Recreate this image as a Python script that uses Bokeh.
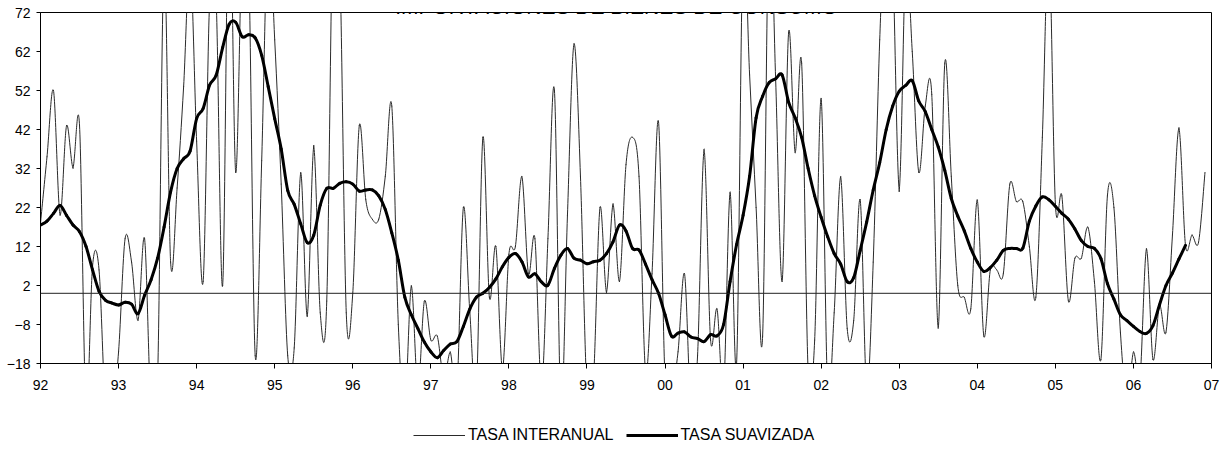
from bokeh.plotting import figure
from bokeh.layouts import column
from bokeh.models import Range1d, FixedTicker, Span, Label, Legend, LegendItem, ColumnDataSource
from bokeh.embed import file_html
from bokeh.resources import INLINE

# ---------------- data (monthly, Jan 1992 onwards) ----------------
start_year = 1992
tasa_interanual = [
    18, 35, 52, 20, 43, 32, 43, -30, 7, 6, -30, -30,            # 1992
    -15, 14, 8, -7, 14, -30, -22, 85, 8, 27, 53, 85,           # 1993
    39, 3, 75, 75, 2, 110, 31, 90, 85, -16, 34, 95,            # 1994
    65, 28, -16, -14, 31, -6, 38, -5, -2, 100, 85, -5,         # 1995
    0, 43, 24, 19, 19, 30, 48, -8, -30, 2, -25, -2,            # 1996
    -12, -11, -22, -15, -25, 22, -5, -25, 40, -1, 12, -20,     # 1997
    10, 12, 30, 5, 14, -25, 14, 52, -30, 20, 64, 30,           # 1998
    -25, -22, 22, 0, 23, 3, 33, 40, 30, -20, 5, 44,            # 1999
    -22, -25, -15, 5, -30, -16, 37, -12, -4, -25, 26, -18,     # 2000
    90, 56, 22, -11, 100, 55, 3, 67, 36, 59, -20, -12,         # 2001
    50, -25, -5, 30, -9, -7, 24, -25, 8, 65, 100, 85,          # 2002
    26, 85, 62, 31, 48, 51, -9, 59, 30, 2, -1, -4,             # 2003
    24, -11, 6, 6, 5, 28, 23.5, 23.5, 12, -1, 40, 90,          # 2004
    23, 25, -2, 9, 9, 17, 3, -17, 25, 22, -10, -28,            # 2005
    -15, -22, 11.5, -17, -3, -10, 15, 42.5, 12.3, 15, 13, 31,  # 2006
]
tasa_suavizada = [
    17.5, 18.5, 20.5, 22.5, 20, 17.5, 15.8, 12, 6, 0.5, -1.8, -2.5,
    -3, -2.3, -2.8, -5.2, -0.5, 3.5, 9, 17, 26, 32, 34.5, 36.5,
    44.8, 47.4, 53.4, 55.9, 63, 69, 69.5, 65.8, 66.3, 65.5, 61, 53,
    44.8, 37, 26.4, 22.8, 17.8, 13, 14.9, 22.6, 26.9, 26.9, 28.2, 28.6,
    28, 26.2, 26.5, 26.5, 25, 21.5, 15.5, 8.5, -1, -5.5, -9, -12.5,
    -15, -16.5, -14.6, -13, -12.4, -8.5, -4, -1, 0, 1.5, 3.7, 6.8,
    9.2, 10.2, 8.1, 4.2, 5, 2.9, 2.1, 6.4, 9.8, 11.5, 9, 8.5,
    7.6, 8.1, 8.5, 10.2, 13.2, 17.5, 16, 11.5, 11.1, 7.5, 3.5, 0,
    -5.5, -11, -10.2, -9.9, -11.2, -11.6, -12.4, -10.6, -10.9, -8, 3, 12.5,
    20, 30, 45, 50.5, 54, 55, 56, 49, 45, 40, 32, 25,
    19.5, 14.5, 10.2, 7.5, 3, 4, 11, 18.3, 26.5, 33.5, 42, 48,
    51.8, 53.3, 54.5, 49.3, 46.6, 42, 37.5, 31.5, 24.3, 19.8, 16, 11.5,
    8, 5.6, 6.6, 8.5, 11, 11.5, 11.5, 11.6, 18.5, 22.4, 24.7, 24,
    22.3, 20.5, 19, 16.5, 13.5, 12, 11.5, 8.9, 2.5, -1.5, -5.5, -7,
    -8.5, -9.8, -10.3, -8.3, -3, 2, 5.2, 8.8, 12.3,
]
x_ticks = list(range(1992, 2008))
x_tick_labels = ["92", "93", "94", "95", "96", "97", "98", "99",
                 "00", "01", "02", "03", "04", "05", "06", "07"]
y_ticks = [-18, -8, 2, 12, 22, 32, 42, 52, 62, 72]
title_text = "IMPORTACIONES DE BIENES DE CONSUMO"
series_names = ["TASA INTERANUAL", "TASA SUAVIZADA"]

FONT = "Liberation Sans"
THIN_COLOR = "#2a2a2a"


def month_x(values):
    return [start_year + i / 12 for i in range(len(values))]


def smooth_source(values):
    """Excel-like smoothed line: one cubic Bezier per month-to-month segment."""
    xs = month_x(values)
    n = len(values)
    d = dict(x0=[], y0=[], x1=[], y1=[], cx0=[], cy0=[], cx1=[], cy1=[])
    for i in range(n - 1):
        p0 = (xs[max(i - 1, 0)], values[max(i - 1, 0)])
        p1 = (xs[i], values[i])
        p2 = (xs[i + 1], values[i + 1])
        p3 = (xs[min(i + 2, n - 1)], values[min(i + 2, n - 1)])
        d["x0"].append(p1[0]); d["y0"].append(p1[1])
        d["x1"].append(p2[0]); d["y1"].append(p2[1])
        d["cx0"].append(p1[0] + (p2[0] - p0[0]) / 6)
        d["cy0"].append(p1[1] + (p2[1] - p0[1]) / 6)
        d["cx1"].append(p2[0] - (p3[0] - p1[0]) / 6)
        d["cy1"].append(p2[1] - (p3[1] - p1[1]) / 6)
    return ColumnDataSource(d)


# ---------------- main chart ----------------
p = figure(width=1224, height=400, output_backend="svg", toolbar_location=None,
           x_range=Range1d(1992, 2007), y_range=Range1d(-18, 72),
           min_border_left=40, min_border_right=13, min_border_top=12,
           min_border_bottom=37)

p.xgrid.visible = False
p.ygrid.visible = False
p.outline_line_color = "black"
p.outline_line_width = 1
p.background_fill_color = "white"
p.border_fill_color = "white"

zero = Span(location=0, dimension="width", line_color="#222222", line_width=1)
p.add_layout(zero)

p.bezier(x0="x0", y0="y0", x1="x1", y1="y1", cx0="cx0", cy0="cy0",
         cx1="cx1", cy1="cy1", source=smooth_source(tasa_interanual),
         line_color=THIN_COLOR, line_width=1, line_cap="round")
p.bezier(x0="x0", y0="y0", x1="x1", y1="y1", cx0="cx0", cy0="cy0",
         cx1="cx1", cy1="cy1", source=smooth_source(tasa_suavizada),
         line_color="black", line_width=3, line_cap="round")

p.xaxis.ticker = FixedTicker(ticks=x_ticks, minor_ticks=[])
p.xaxis.major_label_overrides = {t: l for t, l in zip(x_ticks, x_tick_labels)}
p.yaxis.ticker = FixedTicker(ticks=y_ticks, minor_ticks=[])
for ax in (p.xaxis[0], p.yaxis[0]):
    ax.axis_line_color = "black"
    ax.axis_line_width = 1
    ax.major_tick_line_color = "black"
    ax.major_tick_in = 0
    ax.minor_tick_line_color = None
    ax.major_label_text_font = FONT
    ax.major_label_text_font_size = "14px"
    ax.major_label_text_color = "black"
p.xaxis.major_tick_out = 5
p.xaxis.major_label_standoff = 11
p.yaxis.major_tick_out = 4
p.yaxis.major_label_standoff = 6

# title (partly above the page top, as in the reference)
p.add_layout(Label(x=576, y=357, x_units="screen", y_units="screen",
                   text=title_text, text_align="center", text_baseline="alphabetic",
                   text_font=FONT, text_font_size="21px", text_color="black"))

# ---------------- legend strip ----------------
lg = figure(width=1224, height=50, output_backend="svg", toolbar_location=None,
            x_range=Range1d(0, 1), y_range=Range1d(0, 1),
            x_axis_type=None, y_axis_type=None,
            min_border_left=0, min_border_right=0, min_border_top=0, min_border_bottom=0)
lg.xgrid.visible = False
lg.ygrid.visible = False
lg.outline_line_color = None
lg.background_fill_color = "white"
lg.border_fill_color = "white"
# same series, drawn outside this strip's visible range: only their legend samples show
l_thin = lg.line(x=month_x(tasa_interanual), y=tasa_interanual,
                 line_color=THIN_COLOR, line_width=1)
l_thick = lg.line(x=month_x(tasa_suavizada), y=tasa_suavizada,
                  line_color="black", line_width=3)

legend = Legend(items=[LegendItem(label=series_names[0], renderers=[l_thin]),
                       LegendItem(label=series_names[1], renderers=[l_thick])],
                orientation="horizontal", location=(373, 6),
                glyph_width=52, glyph_height=16, label_height=16, label_standoff=3,
                spacing=12, padding=0, margin=0, border_line_color=None,
                background_fill_alpha=0, label_text_font=FONT,
                label_text_font_size="16px", label_text_color="black")
lg.add_layout(legend)

layout = column(p, lg, spacing=0)
open("out.html", "w").write(file_html(layout, INLINE))
